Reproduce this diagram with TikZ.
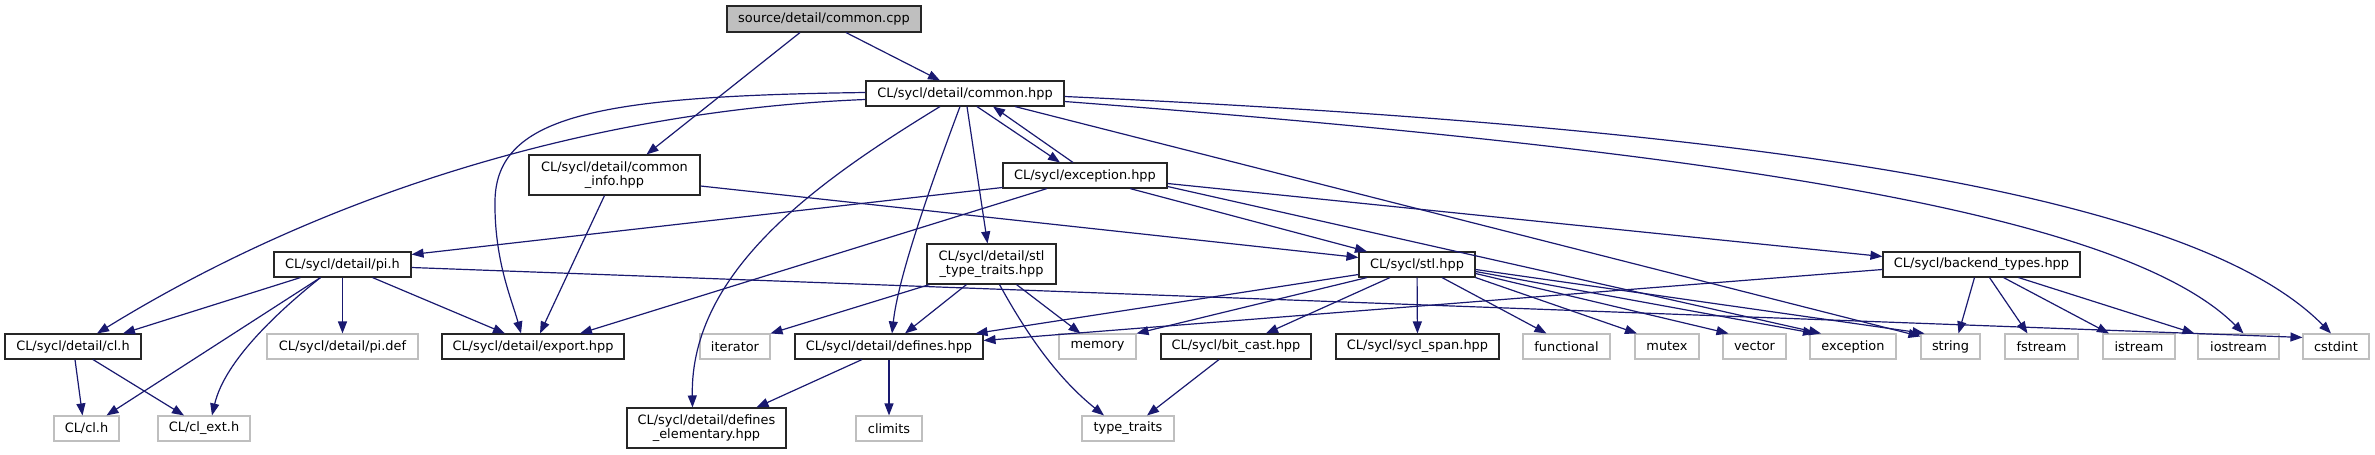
\documentclass[tikz,border=0pt]{standalone}
\usepackage{fontspec}
\setmainfont{DejaVu Sans}
\usetikzlibrary{arrows.meta}
\definecolor{edgec}{HTML}{191970}
\definecolor{graybd}{HTML}{BFBFBF}
\definecolor{srcfill}{HTML}{BFBFBF}
\begin{document}
\begin{tikzpicture}[x=1pt,y=-1pt,
  box/.style={draw=black!85, line width=1.1pt, minimum height=25pt, inner sep=0pt, align=center,
    font=\fontsize{12.9}{14}\selectfont, text=black},
  tall/.style={box, minimum height=40pt},
  ext/.style={box, draw=graybd},
  srcbox/.style={box, fill=srcfill, minimum height=26pt},
  edge/.style={draw=edgec, line width=1.2pt, -{Triangle[length=12pt,width=9pt]}}]
\useasboundingbox (0,0) rectangle (2375,455);
% nodes
\node[srcbox, minimum width=194pt] (src) at (824,19) {source/detail/common.cpp};
\node[box, minimum width=198pt] (common) at (965,93.5) {CL/sycl/detail/common.hpp};
\node[tall, minimum width=171pt] (cinfo) at (614.5,175) {CL/sycl/detail/common\\\_info.hpp};
\node[box, minimum width=164pt] (exc) at (1085,175.5) {CL/sycl/exception.hpp};
\node[box, minimum width=137pt] (pih) at (342.5,264.5) {CL/sycl/detail/pi.h};
\node[tall, minimum width=129pt] (stt) at (991.5,264) {CL/sycl/detail/stl\\\_type\_traits.hpp};
\node[box, minimum width=116pt] (stl) at (1417,264.5) {CL/sycl/stl.hpp};
\node[box, minimum width=197pt] (backend) at (1981.5,264.5) {CL/sycl/backend\_types.hpp};
\node[box, minimum width=136pt] (dcl) at (73,346.5) {CL/sycl/detail/cl.h};
\node[ext, minimum width=151pt] (pidef) at (342.5,346.5) {CL/sycl/detail/pi.def};
\node[box, minimum width=182pt] (export) at (533,346.5) {CL/sycl/detail/export.hpp};
\node[ext, minimum width=70pt] (iterator) at (735,346.5) {iterator};
\node[box, minimum width=188pt] (defines) at (889,346.5) {CL/sycl/detail/defines.hpp};
\node[ext, minimum width=77pt] (memory) at (1097.5,346.5) {memory};
\node[box, minimum width=150pt] (bitcast) at (1236,346.5) {CL/sycl/bit\_cast.hpp};
\node[box, minimum width=163pt] (span) at (1417.5,346.5) {CL/sycl/sycl\_span.hpp};
\node[ext, minimum width=87pt] (functional) at (1566.5,346.5) {functional};
\node[ext, minimum width=64pt] (mutex) at (1667,346.5) {mutex};
\node[ext, minimum width=63pt] (vector) at (1754.5,346.5) {vector};
\node[ext, minimum width=86pt] (exception) at (1853,346.5) {exception};
\node[ext, minimum width=59pt] (string) at (1950.5,346.5) {string};
\node[ext, minimum width=73pt] (fstream) at (2041.5,346.5) {fstream};
\node[ext, minimum width=72pt] (istream) at (2139,346.5) {istream};
\node[ext, minimum width=81pt] (iostream) at (2238.5,346.5) {iostream};
\node[ext, minimum width=66pt] (cstdint) at (2336,346.5) {cstdint};
\node[ext, minimum width=65pt] (clh) at (86.5,428.5) {CL/cl.h};
\node[ext, minimum width=92pt] (clext) at (204,428.5) {CL/cl\_ext.h};
\node[tall, minimum width=159pt] (delem) at (706.5,428) {CL/sycl/detail/defines\\\_elementary.hpp};
\node[ext, minimum width=66pt] (climits) at (889,428.5) {climits};
\node[ext, minimum width=92pt] (typetraits) at (1128,428.5) {type\_traits};
% edges
\draw[edge] ([xshift=22pt]src.south) -- ([xshift=-25pt]common.north);
\draw[edge] ([xshift=-24pt]src.south) -- ([xshift=32pt]cinfo.north);
\draw[edge] ([yshift=-6pt]common.west) .. controls (600,110) and (330,190) .. ([xshift=24pt]dcl.north);
\draw[edge] ([yshift=1pt]common.west) .. controls (600,96) and (497,115) .. (495,200) .. controls (494,260) and (512,300) .. ([xshift=-12pt]export.north);
\draw[edge] ([xshift=-25pt]common.south) .. controls (820,180) and (690,270) .. ([xshift=-14pt]delem.north);
\draw[edge] ([xshift=-5pt]common.south) .. controls (925,200) and (898,280) .. ([xshift=3pt]defines.north);
\draw[edge] ([xshift=2pt]common.south) -- ([xshift=-4pt]stt.north);
\draw[edge] ([xshift=12pt]common.south) -- ([xshift=-25pt]exc.north);
\draw[edge] ([xshift=-12pt]exc.north) -- ([xshift=28pt]common.south);
\draw[edge] ([xshift=50pt]common.south) -- ([yshift=-3pt]string.north west);
\draw[edge] ([yshift=-8pt]common.east) .. controls (1700,150) and (2120,210) .. ([xshift=5pt]iostream.north);
\draw[edge] ([yshift=-3pt]common.east) .. controls (1800,130) and (2200,200) .. ([xshift=-5pt]cstdint.north);
\draw[edge] ([xshift=-10pt]cinfo.south) -- ([xshift=7pt]export.north);
\draw[edge] ([yshift=-11pt]cinfo.east) -- ([yshift=7pt]stl.west);
\draw[edge] ([yshift=-12pt]exc.west) -- ([yshift=10pt]pih.east);
\draw[edge] ([xshift=-38pt]exc.south) -- ([xshift=47pt]export.north);
\draw[edge] ([xshift=45pt]exc.south) -- ([xshift=-50pt]stl.north);
\draw[edge] ([yshift=-8pt]exc.east) -- ([yshift=8pt]backend.west);
\draw[edge] ([yshift=-11pt]exc.east) -- ([xshift=-32pt]exception.north);
\draw[edge] ([xshift=-42pt]pih.south) -- ([xshift=50pt]dcl.north);
\draw[edge] ([xshift=-22pt]pih.south) -- ([xshift=20pt]clh.north);
\draw[edge] ([xshift=-22pt]pih.south) .. controls (280,310) and (225,360) .. ([xshift=8pt]clext.north);
\draw[edge] (pih) -- (pidef);
\draw[edge] ([xshift=30pt]pih.south) -- ([xshift=-28pt]export.north);
\draw[edge] ([yshift=-3pt]pih.east) -- ([yshift=-4pt]cstdint.north west);
\draw[edge] ([xshift=2pt]dcl.south) -- ([xshift=-4pt]clh.north);
\draw[edge] ([xshift=20pt]dcl.south) -- ([xshift=-20pt]clext.north);
\draw[edge] ([xshift=-62pt]stt.south) -- (iterator.north east);
\draw[edge] ([xshift=-25pt]stt.south) -- ([xshift=16pt]defines.north);
\draw[edge] ([xshift=25pt]stt.south) -- ([xshift=-17pt]memory.north);
\draw[edge] ([xshift=8pt]stt.south) .. controls (1030,340) and (1060,380) .. ([xshift=-24pt]typetraits.north);
\draw[edge] ([yshift=-10pt]stl.west) -- ([xshift=-8pt]defines.north east);
\draw[edge] ([yshift=-5pt]backend.west) -- ([yshift=6pt]defines.east);
\draw[edge] ([xshift=-50pt]stl.south) -- (memory.north east);
\draw[edge] ([xshift=-27pt]stl.south) -- ([xshift=30pt]bitcast.north);
\draw[edge] (stl) -- (span);
\draw[edge] ([xshift=25pt]stl.south) -- ([xshift=-20pt]functional.north);
\draw[edge] (stl.south east) -- ([xshift=-30pt]mutex.north);
\draw[edge] ([yshift=-9pt]stl.east) -- ([xshift=-26pt]vector.north);
\draw[edge] ([yshift=-7pt]stl.east) -- ([xshift=-38pt]exception.north);
\draw[edge] ([yshift=-5pt]stl.east) -- ([xshift=4pt]string.north west);
\draw[edge] ([xshift=-7pt]backend.south) -- ([xshift=8pt]string.north);
\draw[edge] ([xshift=8pt]backend.south) -- ([xshift=-14pt]fstream.north);
\draw[edge] ([xshift=22pt]backend.south) -- ([xshift=-30pt]istream.north);
\draw[edge] ([xshift=37pt]backend.south) -- ([xshift=-3pt]iostream.north west);
\draw[edge] ([xshift=-27pt]defines.south) -- ([xshift=50pt]delem.north);
\draw[edge] (defines) -- (climits);
\draw[edge] ([xshift=-17pt]bitcast.south) -- ([xshift=19pt]typetraits.north);
\end{tikzpicture}
\end{document}
